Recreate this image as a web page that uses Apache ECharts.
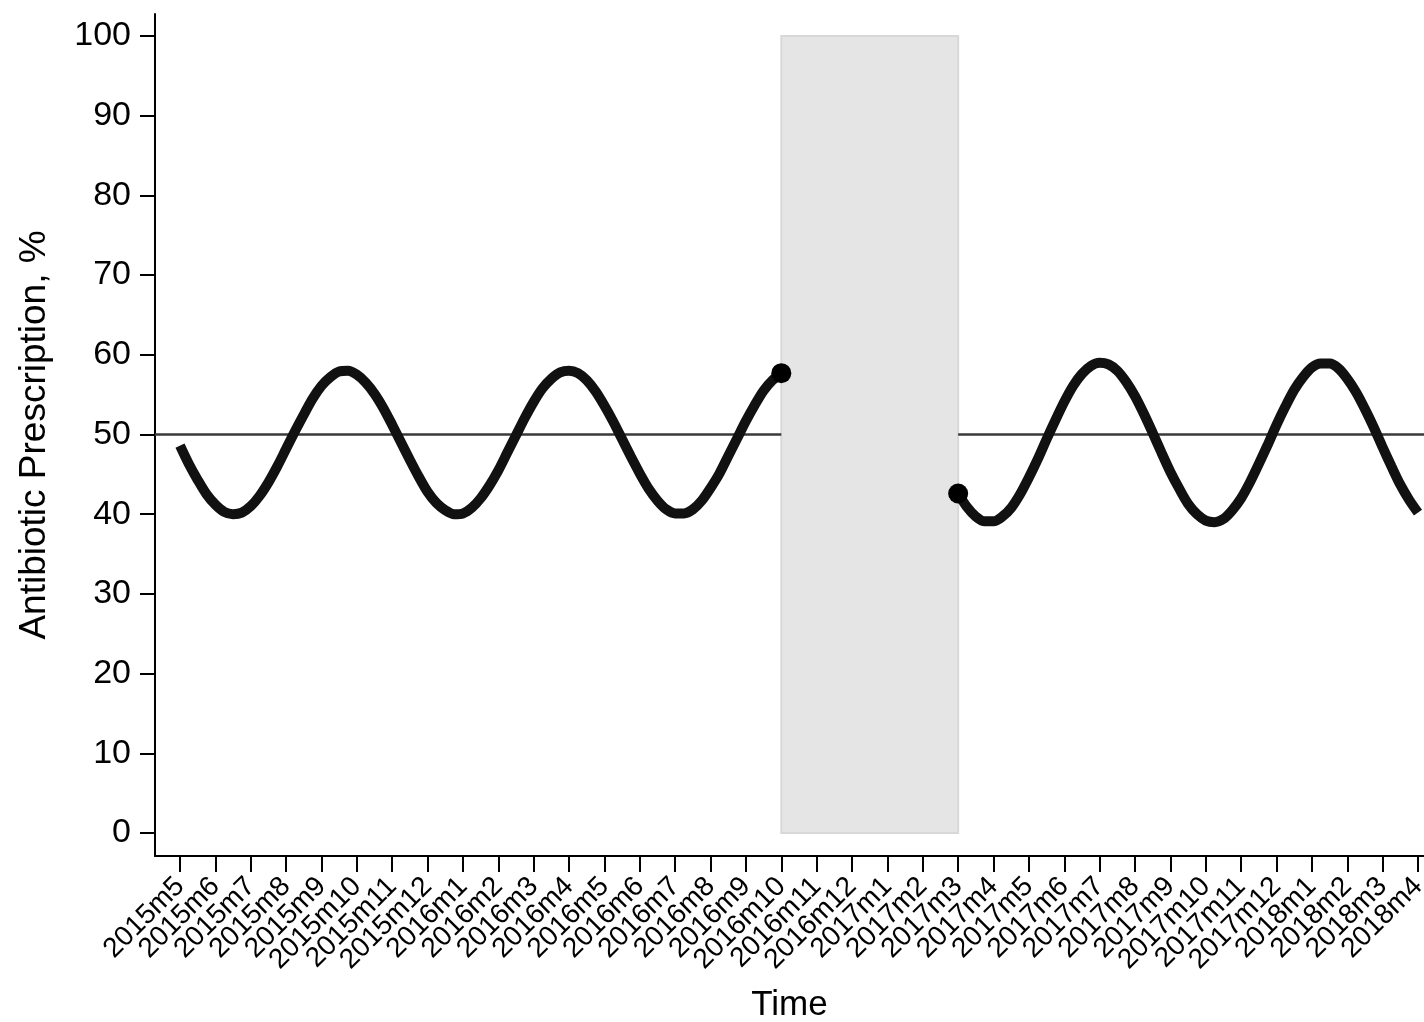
<!DOCTYPE html>
<html><head><meta charset="utf-8">
<script src="https://cdn.jsdelivr.net/npm/echarts@6/dist/echarts.min.js"></script>
<style>html,body{margin:0;padding:0;background:#fff}#c{width:1424px;height:1022px}</style>
</head><body><div id="c"></div>
<script>
const months = ['2015m5','2015m6','2015m7','2015m8','2015m9','2015m10','2015m11','2015m12','2016m1','2016m2','2016m3','2016m4','2016m5','2016m6','2016m7','2016m8','2016m9','2016m10','2016m11','2016m12','2017m1','2017m2','2017m3','2017m4','2017m5','2017m6','2017m7','2017m8','2017m9','2017m10','2017m11','2017m12','2018m1','2018m2','2018m3','2018m4'];
const yTicks = [0,10,20,30,40,50,60,70,80,90,100];
// curve before the gap: month index (quarter-month steps) and value
const preT = [0,0.25,0.5,0.75,1,1.25,1.5,1.75,2,2.25,2.5,2.75,3,3.25,3.5,3.75,4,4.25,4.5,4.75,5,5.25,5.5,5.75,6,6.25,6.5,6.75,7,7.25,7.5,7.75,8,8.25,8.5,8.75,9,9.25,9.5,9.75,10,10.25,10.5,10.75,11,11.25,11.5,11.75,12,12.25,12.5,12.75,13,13.25,13.5,13.75,14,14.25,14.5,14.75,15,15.25,15.5,15.75,16,16.25,16.5,16.75,17];
const preY = [48.6,46.3,44.3,42.5,41.2,40.3,40.0,40.2,41.0,42.3,44.0,46.0,48.2,50.4,52.5,54.5,56.1,57.2,57.9,58.0,57.5,56.5,55.1,53.3,51.2,49.0,46.8,44.7,42.8,41.4,40.5,40.0,40.1,40.8,42.0,43.6,45.5,47.7,49.9,52.1,54.1,55.8,57.0,57.8,58.0,57.7,56.8,55.4,53.6,51.6,49.4,47.2,45.1,43.2,41.7,40.6,40.1,40.1,40.6,41.7,43.3,45.1,47.3,49.5,51.7,53.7,55.5,56.8,57.7];
// curve after the gap
const postT = [22,22.25,22.5,22.75,23,23.25,23.5,23.75,24,24.25,24.5,24.75,25,25.25,25.5,25.75,26,26.25,26.5,26.75,27,27.25,27.5,27.75,28,28.25,28.5,28.75,29,29.25,29.5,29.75,30,30.25,30.5,30.75,31,31.25,31.5,31.75,32,32.25,32.5,32.75,33,33.25,33.5,33.75,34,34.25,34.5,34.75,35];
const postY = [42.6,40.9,39.7,39.1,39.1,39.7,40.8,42.5,44.6,46.9,49.4,51.8,54.1,56.1,57.6,58.6,59.0,58.8,58.0,56.6,54.8,52.6,50.2,47.7,45.3,43.2,41.3,40.0,39.2,39.0,39.4,40.5,42.0,44.0,46.3,48.7,51.2,53.5,55.6,57.2,58.4,58.9,58.9,58.3,57.0,55.3,53.2,50.9,48.4,46.0,43.7,41.8,40.2];
const baseline = 50;
const gapStart = 17, gapEnd = 22;
const bandLow = 0, bandHigh = 100;
const xMin = -0.707, xMax = 35.17, yMin = -2.886, yMax = 102.76;

const FONT = 'Liberation Sans';
const chart = echarts.init(document.getElementById('c'));
const zip = (a,b) => a.map((v,i)=>[v,b[i]]);
chart.setOption({
  animation:false,
  grid:[
    {left:155,right:0,top:14,bottom:166,containLabel:false,outerBoundsMode:'none'},
    {left:180,right:6,top:14,bottom:166,containLabel:false,outerBoundsMode:'none'}
  ],
  xAxis:[
    {type:'value',gridIndex:0,min:xMin,max:xMax,
      name:'Time',nameLocation:'middle',nameGap:132,nameMoveOverlap:false,
      nameTextStyle:{fontFamily:FONT,fontSize:35,color:'#000'},
      axisLine:{show:true,onZero:false,lineStyle:{color:'#000',width:2}},
      axisTick:{show:false},axisLabel:{show:false},splitLine:{show:false}},
    {type:'category',gridIndex:1,data:months,boundaryGap:false,
      axisLine:{show:false,onZero:false},
      axisTick:{show:true,interval:0,length:16,lineStyle:{color:'#000',width:2}},
      axisLabel:{show:true,interval:0,rotate:45,margin:26,fontFamily:FONT,fontSize:28,color:'#000'},
      splitLine:{show:false}}
  ],
  yAxis:[
    {type:'value',gridIndex:0,min:yMin,max:yMax,
      name:'Antibiotic Prescription, %',nameLocation:'middle',nameGap:102,nameMoveOverlap:false,
      nameTextStyle:{fontFamily:FONT,fontSize:37,color:'#000'},
      axisLine:{show:true,onZero:false,lineStyle:{color:'#000',width:2}},
      axisTick:{show:true,length:15,lineStyle:{color:'#000',width:2},customValues:yTicks},
      axisLabel:{show:true,margin:24,fontFamily:FONT,fontSize:34,color:'#000',customValues:yTicks,
        showMinLabel:true,showMaxLabel:true},
      splitLine:{show:false}},
    {type:'value',gridIndex:1,min:0,max:100,show:false}
  ],
  series:[
    {type:'line',data:[],z:1,silent:true,
      markArea:{silent:true,itemStyle:{color:'#e5e5e5',borderColor:'#d8d8d8',borderWidth:2},
        data:[[{xAxis:gapStart,yAxis:bandLow},{xAxis:gapEnd,yAxis:bandHigh}]]}},
    {type:'line',data:[[xMin,baseline],[gapStart,baseline]],symbol:'none',z:2,
      lineStyle:{color:'#3a3a3a',width:2.5}},
    {type:'line',data:[[gapEnd,baseline],[xMax,baseline]],symbol:'none',z:2,
      lineStyle:{color:'#3a3a3a',width:2.5}},
    {type:'line',data:zip(preT,preY),smooth:0.3,symbol:'none',z:3,
      lineStyle:{color:'#111',width:10}},
    {type:'line',data:zip(postT,postY),smooth:0.3,symbol:'none',z:3,
      lineStyle:{color:'#111',width:10}},
    {type:'scatter',data:[[preT[preT.length-1],preY[preY.length-1]],[postT[0],postY[0]]],
      symbolSize:20,itemStyle:{color:'#000',opacity:1},z:4}
  ]
});
</script></body></html>
